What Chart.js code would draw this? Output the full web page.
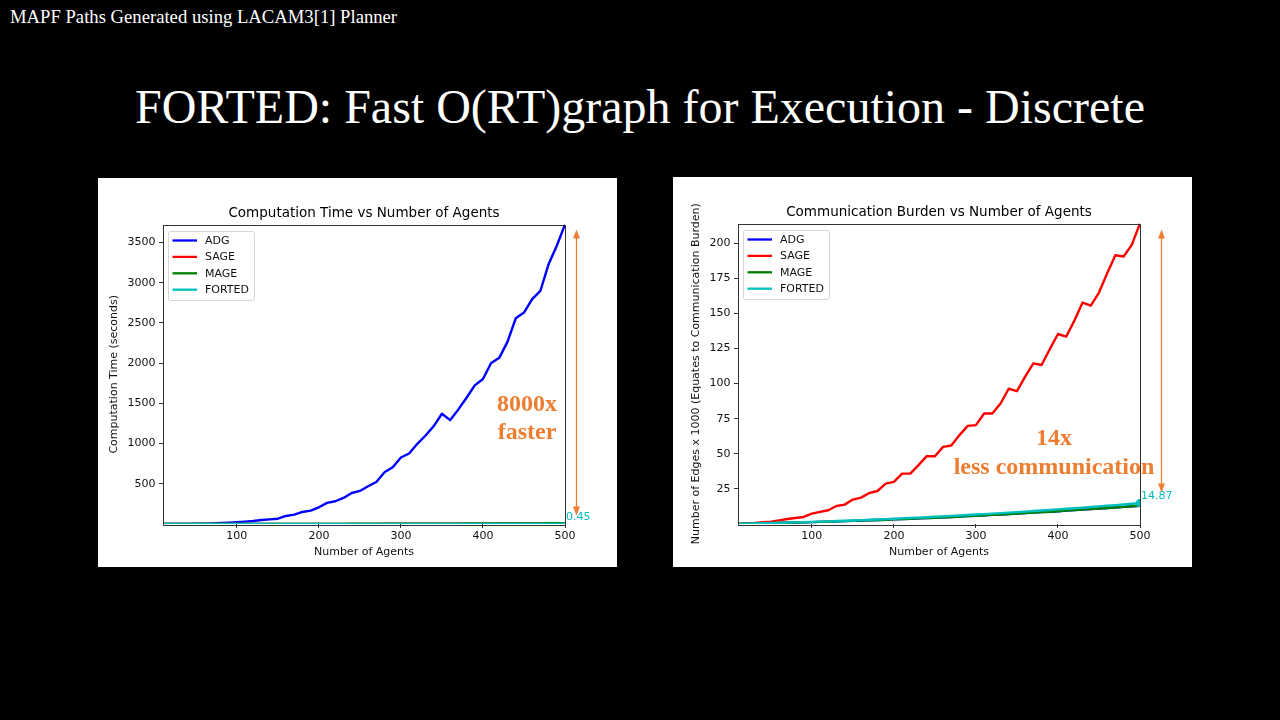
<!DOCTYPE html>
<html>
<head>
<meta charset="utf-8">
<title>FORTED</title>
<script src="https://cdn.jsdelivr.net/npm/chart.js@4.4.0/dist/chart.umd.min.js"></script>
<style>
  body { margin: 0; width: 1280px; height: 720px; background: #000; position: relative; overflow: hidden;
         font-family: "Liberation Serif", "Times New Roman", serif; }
  #caption { position: absolute; left: 10px; top: 7px; color: #fff; font-size: 18.66px; line-height: 20px; white-space: nowrap; }
  #heading { position: absolute; left: 0; top: 79px; width: 1280px; text-align: center; color: #fff;
             font-size: 48px; line-height: 56px; white-space: nowrap; }
  .panel { position: absolute; background: #fff; }
  .panel canvas { display: block; }
</style>
</head>
<body>
<div id="caption">MAPF Paths Generated using LACAM3[1] Planner</div>
<div id="heading">FORTED: Fast O(RT)graph for Execution - Discrete</div>
<div class="panel" style="left:98px; top:178px; width:519px; height:389px;">
  <canvas id="timeChart" width="519" height="389"></canvas>
</div>
<div class="panel" style="left:673px; top:177px; width:519px; height:390px;">
  <canvas id="edgeChart" width="519" height="390"></canvas>
</div>
<script>
// datos
const agents = [10,20,30,40,50,60,70,80,90,100,110,120,130,140,150,160,170,180,190,200,
  210,220,230,240,250,260,270,280,290,300,310,320,330,340,350,360,370,380,390,400,
  410,420,430,440,450,460,470,480,490,500];

// tiempo de computo (segundos)
const timeADG = [0.2,0.5,1,2,3,5,8,12,17,23,29,37,50,58,66,100,116,150,166,208,
  262,283,324,386,411,469,523,644,706,827,877,997,1101,1217,1371,1292,1425,1570,1724,1803,
  2002,2069,2268,2559,2630,2796,2900,3232,3461,3725];
const timeSAGE = [0.01,0.02,0.04,0.06,0.09,0.12,0.16,0.2,0.25,0.3,0.36,0.42,0.5,0.57,0.65,0.74,0.83,0.93,1.04,1.15,
  1.27,1.4,1.53,1.67,1.82,1.97,2.13,2.3,2.47,2.65,2.84,3.03,3.23,3.44,3.65,3.87,4.1,4.33,4.57,4.82,
  5.07,5.33,5.6,5.87,6.15,6.44,6.73,7.03,7.34,7.65];
const timeMAGE = [0.01,0.02,0.04,0.07,0.1,0.14,0.19,0.25,0.31,0.38,0.46,0.55,0.64,0.74,0.85,0.97,1.1,1.23,1.37,1.52,
  1.68,1.84,2.01,2.19,2.38,2.57,2.77,2.98,3.2,3.42,3.65,3.89,4.14,4.39,4.65,4.92,5.2,5.48,5.77,6.07,
  6.38,6.69,7.01,7.34,7.68,8.02,8.37,8.73,9.1,9.47];
const timeFORTED = [0.001,0.002,0.004,0.006,0.008,0.011,0.014,0.017,0.021,0.025,0.029,0.034,0.039,0.044,0.05,0.056,0.062,0.069,0.076,0.083,
  0.091,0.099,0.107,0.116,0.125,0.134,0.144,0.154,0.164,0.175,0.186,0.197,0.209,0.221,0.233,0.246,0.259,0.272,0.286,0.3,
  0.314,0.329,0.344,0.359,0.375,0.391,0.407,0.424,0.437,0.45];

// aristas x 1000
const edgesADG = [0.1,0.21,0.33,0.45,0.58,0.71,0.86,1.0,1.16,1.31,1.48,1.65,1.84,2.02,2.21,2.41,2.62,2.83,3.05,3.27,
  3.51,3.74,3.99,4.23,4.5,4.76,5.03,5.3,5.59,5.88,6.18,6.47,6.78,7.1,7.42,7.74,8.08,8.43,8.77,9.13,
  9.49,9.85,10.22,10.6,10.99,11.38,11.78,12.18,12.59,13.0];
const edgesSAGE = [0.1,0.4,0.7,1.2,1.7,2.6,3.6,4.3,5.0,7.4,8.6,9.8,12.8,13.8,17.4,18.8,22.1,23.5,28.8,30.0,
  35.9,35.9,41.9,48.3,48.3,54.9,55.9,63.3,69.9,70.4,78.7,78.7,85.8,96.3,94.6,104.9,114.4,113.2,124.4,135.3,
  133.4,144.8,157.7,155.5,164.8,178.6,191.4,190.5,198.8,214];
const edgesMAGE = [0.1,0.21,0.33,0.45,0.58,0.71,0.86,1.0,1.16,1.31,1.48,1.65,1.84,2.02,2.21,2.41,2.62,2.83,3.05,3.27,
  3.51,3.74,3.99,4.23,4.5,4.76,5.03,5.3,5.59,5.88,6.18,6.47,6.78,7.1,7.42,7.74,8.08,8.43,8.77,9.13,
  9.49,9.85,10.22,10.6,10.99,11.38,11.78,12.18,12.59,13.0];
const edgesFORTED = [0.12,0.24,0.37,0.51,0.66,0.81,0.98,1.14,1.32,1.5,1.69,1.89,2.1,2.31,2.53,2.76,2.99,3.24,3.49,3.74,
  4.01,4.28,4.56,4.84,5.14,5.44,5.75,6.06,6.39,6.72,7.06,7.4,7.75,8.11,8.48,8.85,9.23,9.63,10.02,10.43,
  10.84,11.26,11.68,12.12,12.56,13.0,13.46,13.92,14.39,14.87];

const agentTicks = [100,200,300,400,500];
const timeTicks = [500,1000,1500,2000,2500,3000,3500];
const edgeTicks = [25,50,75,100,125,150,175,200];

const seriesNames = ['ADG','SAGE','MAGE','FORTED'];
const seriesColors = ['#0000ff','#ff0000','#008000','#00bfbf'];

const axisFont = { family: 'DejaVu Sans', size: 11 };
const spineColor = '#333';
const noteColor = '#ED7D31';

// marco completo + titulo centrado sobre el area (estilo matplotlib)
const axesFrame = {
  id: 'axesFrame',
  afterDraw(chart, args, opts) {
    const { ctx, chartArea: a } = chart;
    ctx.save();
    ctx.strokeStyle = spineColor;
    ctx.lineWidth = 1;
    ctx.strokeRect(Math.round(a.left) + 0.5, Math.round(a.top) + 0.5,
      Math.round(a.right - a.left), Math.round(a.bottom - a.top));
    ctx.fillStyle = '#000';
    ctx.font = '13.5px "DejaVu Sans"';
    ctx.textAlign = 'center';
    ctx.textBaseline = 'middle';
    ctx.fillText(opts.text, (a.left + a.right) / 2, a.top - 11.5);
    ctx.restore();
  }
};

// leyenda dentro del area, arriba a la izquierda
const innerLegend = {
  id: 'innerLegend',
  afterDraw(chart) {
    const { ctx, chartArea: a } = chart;
    const x = Math.round(a.left) + 5.5, y = Math.round(a.top) + 6.5;
    const w = 86, h = 69, step = 16.4;
    ctx.save();
    ctx.fillStyle = 'rgba(255,255,255,0.8)';
    ctx.strokeStyle = '#d6d6d6';
    ctx.lineWidth = 1;
    ctx.beginPath();
    ctx.roundRect(x, y, w, h, 2);
    ctx.fill();
    ctx.stroke();
    ctx.font = '11px "DejaVu Sans"';
    ctx.textBaseline = 'middle';
    chart.data.datasets.forEach((ds, i) => {
      const ly = y + 9 + i * step;
      ctx.strokeStyle = ds.borderColor;
      ctx.lineWidth = 2.3;
      ctx.beginPath();
      ctx.moveTo(x + 4, ly);
      ctx.lineTo(x + 28.5, ly);
      ctx.stroke();
      ctx.fillStyle = '#111';
      ctx.fillText(ds.label, x + 36.5, ly + 0.5);
    });
    ctx.restore();
  }
};

// flecha y texto naranja + etiqueta del ultimo punto FORTED
const slideNotes = {
  id: 'slideNotes',
  afterDraw(chart, args, opts) {
    const { ctx, chartArea: a } = chart;
    ctx.save();
    // etiqueta del ultimo valor
    const ds = chart.data.datasets[3];
    const last = ds.data[ds.data.length - 1];
    const px = chart.scales.x.getPixelForValue(last.x);
    const py = chart.scales.y.getPixelForValue(last.y);
    ctx.fillStyle = seriesColors[3];
    ctx.font = '11px "DejaVu Sans"';
    ctx.textBaseline = 'middle';
    ctx.textAlign = 'left';
    ctx.fillText(String(last.y), px + 1, py - 7);

    // flecha doble
    const ax = a.right + opts.arrowDx;
    const top = a.top + opts.arrowTop, bottom = a.top + opts.arrowBottom;
    ctx.strokeStyle = noteColor;
    ctx.fillStyle = noteColor;
    ctx.lineWidth = 1.3;
    ctx.beginPath();
    ctx.moveTo(ax, top + 8);
    ctx.lineTo(ax, bottom - 8);
    ctx.stroke();
    ctx.beginPath();
    ctx.moveTo(ax, top); ctx.lineTo(ax - 3.5, top + 9); ctx.lineTo(ax + 3.5, top + 9); ctx.closePath();
    ctx.fill();
    ctx.beginPath();
    ctx.moveTo(ax, bottom); ctx.lineTo(ax - 3.5, bottom - 9); ctx.lineTo(ax + 3.5, bottom - 9); ctx.closePath();
    ctx.fill();

    // texto
    ctx.font = 'bold 24px "Liberation Serif"';
    ctx.textAlign = 'center';
    ctx.textBaseline = 'middle';
    opts.lines.forEach((t, i) => ctx.fillText(t, opts.textX, opts.textY + i * opts.lineGap));
    ctx.restore();
  }
};

function buildChart(id, cfg) {
  const yMax = Math.max(...cfg.series.flat());
  const datasets = cfg.series.map((vals, i) => ({
    label: seriesNames[i],
    data: agents.map((a, k) => ({ x: a, y: vals[k] })),
    borderColor: seriesColors[i],
    backgroundColor: seriesColors[i],
    borderWidth: 2.4,
    borderJoinStyle: 'round',
    tension: 0,
    clip: 0,
    order: 3 - i,
    pointRadius: i === 3 ? (c => c.dataIndex === vals.length - 1 ? cfg.markRadius : 0) : 0,
    pointBorderWidth: 0,
    pointBackgroundColor: seriesColors[i]
  }));

  return new Chart(document.getElementById(id), {
    type: 'line',
    data: { datasets },
    plugins: [axesFrame, innerLegend, slideNotes],
    options: {
      responsive: false,
      devicePixelRatio: 1,
      animation: false,
      layout: { padding: { left: 0, right: 52, top: 46.5, bottom: 0 } },
      plugins: {
        legend: { display: false },
        tooltip: { enabled: false },
        title: { display: false },
        axesFrame: { text: cfg.title },
        slideNotes: cfg.notes
      },
      scales: {
        x: {
          type: 'linear',
          min: 10,
          max: 500,
          afterBuildTicks: s => { s.ticks = agentTicks.map(v => ({ value: v })); },
          afterFit: s => { s.height = 43; },
          grid: { drawOnChartArea: false, tickLength: 4, color: spineColor },
          border: { display: false },
          ticks: { color: '#111', font: axisFont, padding: 2, maxRotation: 0, callback: v => String(v) },
          title: { display: true, text: 'Number of Agents', color: '#111', font: axisFont,
                   padding: { top: 0, bottom: 8.4 } }
        },
        y: {
          min: 0,
          max: yMax,
          afterBuildTicks: s => { s.ticks = cfg.yTicks.map(v => ({ value: v })); },
          afterFit: s => { s.width = 65; },
          grid: { drawOnChartArea: false, tickLength: 4, color: spineColor },
          border: { display: false },
          ticks: { color: '#111', font: axisFont, padding: 3.5, callback: v => String(v) },
          title: { display: true, text: cfg.yTitle, color: '#111', font: axisFont,
                   padding: { top: cfg.yTitlePad, bottom: 0 } }
        }
      }
    }
  });
}

buildChart('timeChart', {
  title: 'Computation Time vs Number of Agents',
  yTitle: 'Computation Time (seconds)',
  yTitlePad: 10,
  yTicks: timeTicks,
  series: [timeADG, timeSAGE, timeMAGE, timeFORTED],
  markRadius: 2,
  notes: { arrowDx: 11.5, arrowTop: 5, arrowBottom: 291, lines: ['8000x', 'faster'],
           textX: 429, textY: 227, lineGap: 28 }
});

buildChart('edgeChart', {
  title: 'Communication Burden vs Number of Agents',
  yTitle: 'Number of Edges x 1000 (Equates to Communication Burden)',
  yTitlePad: 16.7,
  yTicks: edgeTicks,
  series: [edgesADG, edgesSAGE, edgesMAGE, edgesFORTED],
  markRadius: 4,
  notes: { arrowDx: 21.5, arrowTop: 6, arrowBottom: 269, lines: ['14x', 'less communication'],
           textX: 381, textY: 262, lineGap: 28.5 }
});
</script>
</body>
</html>
